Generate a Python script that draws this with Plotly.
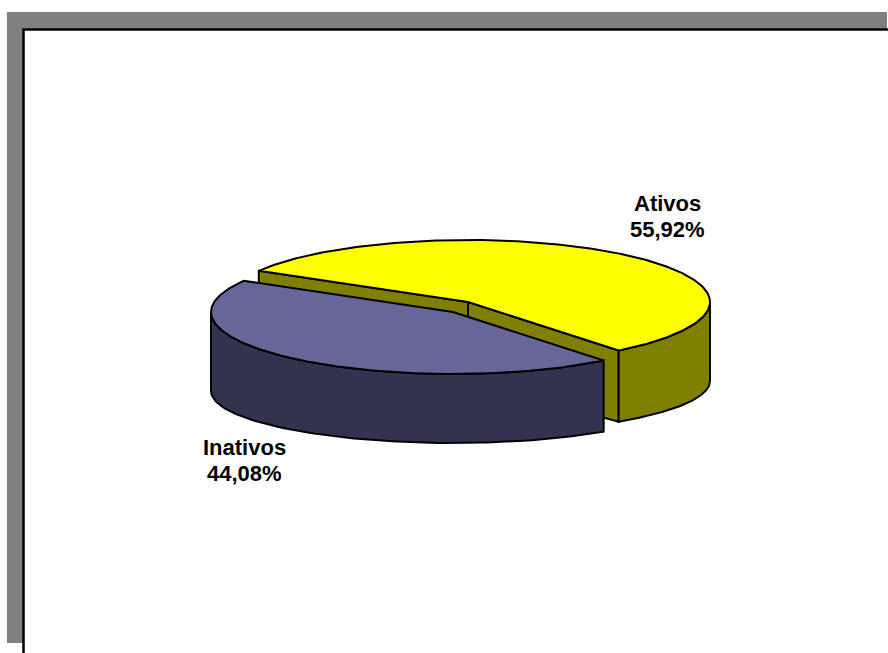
import numpy as np
import plotly.graph_objects as go

# Pie data
labels = ["Ativos", "Inativos"]
values = [55.92, 44.08]

# Styling per slice
top_colors = ["#FFFF00", "#666699"]
side_colors = ["#808000", "#333350"]
explode = [(15, -10), (0, 0)]          # screen offset of each slice, px
label_pos = [(667, 216), (244, 460)]   # label block centre, px
LINE_GAP = 26                          # distance between the two label lines, px

# 3-D pie geometry (pixel units, y grows downward)
START_DEG = -51.5
RX, RY_TOP, RY_BOT, DEPTH = 242, 62, 52, 79
CX, CY = 453, 312
W, H = 888, 653


def rim(cx, cy, t, bottom=False):
    t = np.radians(np.atleast_1d(t))
    x = cx + RX * np.cos(t)
    if bottom:
        y = cy + DEPTH - RY_BOT * np.sin(t)
    else:
        y = cy - RY_TOP * np.sin(t)
    return x, y


def poly(x, y, fill):
    return go.Scatter(
        x=list(x) + [x[0]], y=list(y) + [y[0]],
        mode="lines", fill="toself", fillcolor=fill,
        line=dict(color="black", width=2),
        hoverinfo="skip", showlegend=False,
    )


total = sum(values)
spans = []
a0 = START_DEG
for v in values:
    a1 = a0 + 360.0 * v / total
    spans.append((a0, a1))
    a0 = a1

# slices further back are painted first
order = sorted(range(len(values)), key=lambda i: explode[i][1])

traces = []
for i in order:
    t1, t2 = spans[i]
    cx, cy = CX + explode[i][0], CY + explode[i][1]
    top_c, side_c = top_colors[i], side_colors[i]

    # cut faces along the two radii
    for t, visible in ((t1, np.cos(np.radians(t1)) > 0),
                       (t2, np.cos(np.radians(t2)) < 0)):
        if visible:
            xt, yt = rim(cx, cy, t)
            xb, yb = rim(cx, cy, t, bottom=True)
            traces.append(poly([cx, xt[0], xb[0], cx],
                               [cy, yt[0], yb[0], cy + DEPTH], side_c))

    # outer wall on the front half of the ellipse
    for k in (-1, 0, 1):
        lo = max(t1, -180 + 360 * k)
        hi = min(t2, 360 * k)
        if hi - lo > 0.1:
            ts = np.linspace(lo, hi, 120)
            xt, yt = rim(cx, cy, ts)
            xb, yb = rim(cx, cy, ts[::-1], bottom=True)
            traces.append(poly(np.r_[xt, xb], np.r_[yt, yb], side_c))

    # top face
    ts = np.linspace(t1, t2, 240)
    xt, yt = rim(cx, cy, ts)
    traces.append(poly(np.r_[cx, xt], np.r_[cy, yt], top_c))

fig = go.Figure(traces)

label_font = dict(family="Liberation Sans, Arial, sans-serif", size=22, color="black")
annotations = []
for lab, v, (lx, ly) in zip(labels, values, label_pos):
    pct = f"{v:.2f}".replace(".", ",") + "%"
    for txt, dy in ((lab, -LINE_GAP / 2), (pct, LINE_GAP / 2)):
        annotations.append(dict(
            x=lx, y=ly + dy, xref="x", yref="y",
            text=f"<b>{txt}</b>", showarrow=False,
            xanchor="center", yanchor="middle", font=label_font,
        ))

shapes = [
    # drop shadow of the chart frame
    dict(type="rect", xref="x", yref="y", x0=7, y0=12, x1=887, y1=643,
         fillcolor="#808080", line=dict(width=0), layer="below"),
    # chart frame
    dict(type="rect", xref="x", yref="y", x0=23.5, y0=29.5, x1=960, y1=720,
         fillcolor="white", line=dict(color="black", width=2.5), layer="below"),
]

fig.update_layout(
    width=W, height=H, autosize=False,
    margin=dict(l=0, r=0, t=0, b=0),
    paper_bgcolor="white", plot_bgcolor="white",
    xaxis=dict(range=[0, W], visible=False, fixedrange=True),
    yaxis=dict(range=[H, 0], visible=False, fixedrange=True),
    shapes=shapes, annotations=annotations,
)

fig.write_html("out.html", config={"displayModeBar": False, "staticPlot": True})
